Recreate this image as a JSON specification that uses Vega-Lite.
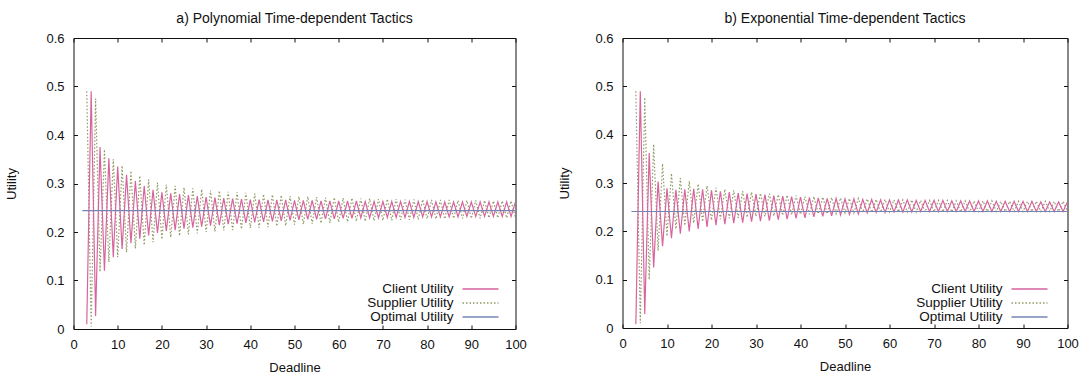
{
  "$schema": "https://vega.github.io/schema/vega-lite/v6.json",
  "autosize": {"type": "pad"},
  "padding": {"left": 4.5, "top": 11, "right": 0, "bottom": 0},
  "background": "white",
  "bounds": "flush",
  "spacing": 107,
  "config": {
    "font": "Liberation Sans",
    "view": {"stroke": "#111", "strokeWidth": 1},
    "axis": {
      "grid": false, "domain": false, "tickColor": "#111", "tickSize": -4, "tickWidth": 1,
      "labelFont": "Liberation Sans", "labelFontSize": 13, "labelColor": "#111", "labelFlush": false,
      "titleFont": "Liberation Sans", "titleFontSize": 13, "titleFontWeight": "normal", "titleColor": "#111"
    },
    "title": {"font": "Liberation Sans", "fontSize": 14, "fontWeight": "normal", "color": "#111", "offset": 6, "anchor": "middle"},
    "legend": {
      "orient": "none", "legendX": 400, "legendY": 244, "title": null,
      "symbolType": "M-3,0H3", "symbolSize": 144, "symbolStrokeWidth": 1.3,
      "labelAlign": "right", "labelOffset": -34, "labelFont": "Liberation Sans", "labelFontSize": 13.5,
      "labelColor": "#111", "rowPadding": 0
    }
  },
  "datasets": {
    "utility": [
      {"tactic": "poly", "deadline": 2, "optimal": 0.244},
      {"tactic": "poly", "deadline": 3, "client": 0.010, "supplier": 0.490, "optimal": 0.244},
      {"tactic": "poly", "deadline": 4, "client": 0.490, "supplier": 0.005, "optimal": 0.244},
      {"tactic": "poly", "deadline": 5, "client": 0.027, "supplier": 0.475, "optimal": 0.244},
      {"tactic": "poly", "deadline": 6, "client": 0.375, "supplier": 0.118, "optimal": 0.244},
      {"tactic": "poly", "deadline": 7, "client": 0.120, "supplier": 0.370, "optimal": 0.244},
      {"tactic": "poly", "deadline": 8, "client": 0.352, "supplier": 0.138, "optimal": 0.244},
      {"tactic": "poly", "deadline": 9, "client": 0.148, "supplier": 0.350, "optimal": 0.244},
      {"tactic": "poly", "deadline": 10, "client": 0.335, "supplier": 0.148, "optimal": 0.244},
      {"tactic": "poly", "deadline": 11, "client": 0.165, "supplier": 0.337, "optimal": 0.244},
      {"tactic": "poly", "deadline": 12, "client": 0.318, "supplier": 0.158, "optimal": 0.244},
      {"tactic": "poly", "deadline": 13, "client": 0.177, "supplier": 0.326, "optimal": 0.244},
      {"tactic": "poly", "deadline": 14, "client": 0.305, "supplier": 0.166, "optimal": 0.244},
      {"tactic": "poly", "deadline": 15, "client": 0.186, "supplier": 0.316, "optimal": 0.244},
      {"tactic": "poly", "deadline": 16, "client": 0.295, "supplier": 0.173, "optimal": 0.244},
      {"tactic": "poly", "deadline": 17, "client": 0.193, "supplier": 0.308, "optimal": 0.244},
      {"tactic": "poly", "deadline": 18, "client": 0.287, "supplier": 0.179, "optimal": 0.244},
      {"tactic": "poly", "deadline": 19, "client": 0.198, "supplier": 0.302, "optimal": 0.244},
      {"tactic": "poly", "deadline": 20, "client": 0.282, "supplier": 0.185, "optimal": 0.244},
      {"tactic": "poly", "deadline": 21, "client": 0.202, "supplier": 0.298, "optimal": 0.244},
      {"tactic": "poly", "deadline": 22, "client": 0.280, "supplier": 0.189, "optimal": 0.244},
      {"tactic": "poly", "deadline": 23, "client": 0.204, "supplier": 0.295, "optimal": 0.244},
      {"tactic": "poly", "deadline": 24, "client": 0.278, "supplier": 0.192, "optimal": 0.244},
      {"tactic": "poly", "deadline": 25, "client": 0.207, "supplier": 0.292, "optimal": 0.244},
      {"tactic": "poly", "deadline": 26, "client": 0.276, "supplier": 0.195, "optimal": 0.244},
      {"tactic": "poly", "deadline": 27, "client": 0.209, "supplier": 0.290, "optimal": 0.244},
      {"tactic": "poly", "deadline": 28, "client": 0.274, "supplier": 0.197, "optimal": 0.244},
      {"tactic": "poly", "deadline": 29, "client": 0.211, "supplier": 0.288, "optimal": 0.244},
      {"tactic": "poly", "deadline": 30, "client": 0.272, "supplier": 0.200, "optimal": 0.244},
      {"tactic": "poly", "deadline": 31, "client": 0.213, "supplier": 0.286, "optimal": 0.244},
      {"tactic": "poly", "deadline": 32, "client": 0.271, "supplier": 0.201, "optimal": 0.244},
      {"tactic": "poly", "deadline": 33, "client": 0.214, "supplier": 0.285, "optimal": 0.244},
      {"tactic": "poly", "deadline": 34, "client": 0.270, "supplier": 0.203, "optimal": 0.244},
      {"tactic": "poly", "deadline": 35, "client": 0.216, "supplier": 0.283, "optimal": 0.244},
      {"tactic": "poly", "deadline": 36, "client": 0.269, "supplier": 0.204, "optimal": 0.244},
      {"tactic": "poly", "deadline": 37, "client": 0.217, "supplier": 0.282, "optimal": 0.244},
      {"tactic": "poly", "deadline": 38, "client": 0.268, "supplier": 0.206, "optimal": 0.244},
      {"tactic": "poly", "deadline": 39, "client": 0.219, "supplier": 0.281, "optimal": 0.244},
      {"tactic": "poly", "deadline": 40, "client": 0.267, "supplier": 0.208, "optimal": 0.244},
      {"tactic": "poly", "deadline": 41, "client": 0.220, "supplier": 0.279, "optimal": 0.244},
      {"tactic": "poly", "deadline": 42, "client": 0.267, "supplier": 0.209, "optimal": 0.244},
      {"tactic": "poly", "deadline": 43, "client": 0.221, "supplier": 0.278, "optimal": 0.244},
      {"tactic": "poly", "deadline": 44, "client": 0.266, "supplier": 0.210, "optimal": 0.244},
      {"tactic": "poly", "deadline": 45, "client": 0.222, "supplier": 0.277, "optimal": 0.244},
      {"tactic": "poly", "deadline": 46, "client": 0.266, "supplier": 0.212, "optimal": 0.244},
      {"tactic": "poly", "deadline": 47, "client": 0.223, "supplier": 0.276, "optimal": 0.244},
      {"tactic": "poly", "deadline": 48, "client": 0.266, "supplier": 0.213, "optimal": 0.244},
      {"tactic": "poly", "deadline": 49, "client": 0.224, "supplier": 0.274, "optimal": 0.244},
      {"tactic": "poly", "deadline": 50, "client": 0.265, "supplier": 0.215, "optimal": 0.244},
      {"tactic": "poly", "deadline": 51, "client": 0.225, "supplier": 0.273, "optimal": 0.244},
      {"tactic": "poly", "deadline": 52, "client": 0.265, "supplier": 0.216, "optimal": 0.244},
      {"tactic": "poly", "deadline": 53, "client": 0.226, "supplier": 0.273, "optimal": 0.244},
      {"tactic": "poly", "deadline": 54, "client": 0.265, "supplier": 0.217, "optimal": 0.244},
      {"tactic": "poly", "deadline": 55, "client": 0.226, "supplier": 0.272, "optimal": 0.244},
      {"tactic": "poly", "deadline": 56, "client": 0.264, "supplier": 0.218, "optimal": 0.244},
      {"tactic": "poly", "deadline": 57, "client": 0.227, "supplier": 0.271, "optimal": 0.244},
      {"tactic": "poly", "deadline": 58, "client": 0.264, "supplier": 0.219, "optimal": 0.244},
      {"tactic": "poly", "deadline": 59, "client": 0.227, "supplier": 0.271, "optimal": 0.244},
      {"tactic": "poly", "deadline": 60, "client": 0.264, "supplier": 0.220, "optimal": 0.244},
      {"tactic": "poly", "deadline": 61, "client": 0.228, "supplier": 0.270, "optimal": 0.244},
      {"tactic": "poly", "deadline": 62, "client": 0.264, "supplier": 0.221, "optimal": 0.244},
      {"tactic": "poly", "deadline": 63, "client": 0.228, "supplier": 0.270, "optimal": 0.244},
      {"tactic": "poly", "deadline": 64, "client": 0.264, "supplier": 0.222, "optimal": 0.244},
      {"tactic": "poly", "deadline": 65, "client": 0.229, "supplier": 0.269, "optimal": 0.244},
      {"tactic": "poly", "deadline": 66, "client": 0.263, "supplier": 0.222, "optimal": 0.244},
      {"tactic": "poly", "deadline": 67, "client": 0.229, "supplier": 0.269, "optimal": 0.244},
      {"tactic": "poly", "deadline": 68, "client": 0.263, "supplier": 0.223, "optimal": 0.244},
      {"tactic": "poly", "deadline": 69, "client": 0.229, "supplier": 0.268, "optimal": 0.244},
      {"tactic": "poly", "deadline": 70, "client": 0.263, "supplier": 0.224, "optimal": 0.244},
      {"tactic": "poly", "deadline": 71, "client": 0.230, "supplier": 0.268, "optimal": 0.244},
      {"tactic": "poly", "deadline": 72, "client": 0.263, "supplier": 0.224, "optimal": 0.244},
      {"tactic": "poly", "deadline": 73, "client": 0.230, "supplier": 0.268, "optimal": 0.244},
      {"tactic": "poly", "deadline": 74, "client": 0.263, "supplier": 0.225, "optimal": 0.244},
      {"tactic": "poly", "deadline": 75, "client": 0.230, "supplier": 0.267, "optimal": 0.244},
      {"tactic": "poly", "deadline": 76, "client": 0.263, "supplier": 0.225, "optimal": 0.244},
      {"tactic": "poly", "deadline": 77, "client": 0.230, "supplier": 0.267, "optimal": 0.244},
      {"tactic": "poly", "deadline": 78, "client": 0.263, "supplier": 0.226, "optimal": 0.244},
      {"tactic": "poly", "deadline": 79, "client": 0.231, "supplier": 0.267, "optimal": 0.244},
      {"tactic": "poly", "deadline": 80, "client": 0.263, "supplier": 0.227, "optimal": 0.244},
      {"tactic": "poly", "deadline": 81, "client": 0.231, "supplier": 0.266, "optimal": 0.244},
      {"tactic": "poly", "deadline": 82, "client": 0.262, "supplier": 0.227, "optimal": 0.244},
      {"tactic": "poly", "deadline": 83, "client": 0.231, "supplier": 0.266, "optimal": 0.244},
      {"tactic": "poly", "deadline": 84, "client": 0.262, "supplier": 0.227, "optimal": 0.244},
      {"tactic": "poly", "deadline": 85, "client": 0.231, "supplier": 0.266, "optimal": 0.244},
      {"tactic": "poly", "deadline": 86, "client": 0.262, "supplier": 0.228, "optimal": 0.244},
      {"tactic": "poly", "deadline": 87, "client": 0.231, "supplier": 0.265, "optimal": 0.244},
      {"tactic": "poly", "deadline": 88, "client": 0.262, "supplier": 0.228, "optimal": 0.244},
      {"tactic": "poly", "deadline": 89, "client": 0.232, "supplier": 0.265, "optimal": 0.244},
      {"tactic": "poly", "deadline": 90, "client": 0.262, "supplier": 0.228, "optimal": 0.244},
      {"tactic": "poly", "deadline": 91, "client": 0.232, "supplier": 0.265, "optimal": 0.244},
      {"tactic": "poly", "deadline": 92, "client": 0.262, "supplier": 0.228, "optimal": 0.244},
      {"tactic": "poly", "deadline": 93, "client": 0.232, "supplier": 0.265, "optimal": 0.244},
      {"tactic": "poly", "deadline": 94, "client": 0.262, "supplier": 0.229, "optimal": 0.244},
      {"tactic": "poly", "deadline": 95, "client": 0.232, "supplier": 0.264, "optimal": 0.244},
      {"tactic": "poly", "deadline": 96, "client": 0.262, "supplier": 0.229, "optimal": 0.244},
      {"tactic": "poly", "deadline": 97, "client": 0.232, "supplier": 0.264, "optimal": 0.244},
      {"tactic": "poly", "deadline": 98, "client": 0.262, "supplier": 0.229, "optimal": 0.244},
      {"tactic": "poly", "deadline": 99, "client": 0.232, "supplier": 0.264, "optimal": 0.244},
      {"tactic": "poly", "deadline": 100, "client": 0.262, "supplier": 0.229, "optimal": 0.244},
      {"tactic": "exp", "deadline": 2, "optimal": 0.241},
      {"tactic": "exp", "deadline": 3, "client": 0.008, "supplier": 0.490, "optimal": 0.241},
      {"tactic": "exp", "deadline": 4, "client": 0.490, "supplier": 0.010, "optimal": 0.241},
      {"tactic": "exp", "deadline": 5, "client": 0.029, "supplier": 0.477, "optimal": 0.241},
      {"tactic": "exp", "deadline": 6, "client": 0.362, "supplier": 0.100, "optimal": 0.241},
      {"tactic": "exp", "deadline": 7, "client": 0.125, "supplier": 0.380, "optimal": 0.241},
      {"tactic": "exp", "deadline": 8, "client": 0.303, "supplier": 0.160, "optimal": 0.241},
      {"tactic": "exp", "deadline": 9, "client": 0.169, "supplier": 0.340, "optimal": 0.241},
      {"tactic": "exp", "deadline": 10, "client": 0.289, "supplier": 0.190, "optimal": 0.241},
      {"tactic": "exp", "deadline": 11, "client": 0.186, "supplier": 0.320, "optimal": 0.241},
      {"tactic": "exp", "deadline": 12, "client": 0.286, "supplier": 0.205, "optimal": 0.241},
      {"tactic": "exp", "deadline": 13, "client": 0.195, "supplier": 0.310, "optimal": 0.241},
      {"tactic": "exp", "deadline": 14, "client": 0.287, "supplier": 0.212, "optimal": 0.241},
      {"tactic": "exp", "deadline": 15, "client": 0.200, "supplier": 0.304, "optimal": 0.241},
      {"tactic": "exp", "deadline": 16, "client": 0.288, "supplier": 0.217, "optimal": 0.241},
      {"tactic": "exp", "deadline": 17, "client": 0.205, "supplier": 0.298, "optimal": 0.241},
      {"tactic": "exp", "deadline": 18, "client": 0.287, "supplier": 0.220, "optimal": 0.241},
      {"tactic": "exp", "deadline": 19, "client": 0.209, "supplier": 0.294, "optimal": 0.241},
      {"tactic": "exp", "deadline": 20, "client": 0.285, "supplier": 0.223, "optimal": 0.241},
      {"tactic": "exp", "deadline": 21, "client": 0.213, "supplier": 0.290, "optimal": 0.241},
      {"tactic": "exp", "deadline": 22, "client": 0.283, "supplier": 0.225, "optimal": 0.241},
      {"tactic": "exp", "deadline": 23, "client": 0.215, "supplier": 0.287, "optimal": 0.241},
      {"tactic": "exp", "deadline": 24, "client": 0.281, "supplier": 0.227, "optimal": 0.241},
      {"tactic": "exp", "deadline": 25, "client": 0.217, "supplier": 0.285, "optimal": 0.241},
      {"tactic": "exp", "deadline": 26, "client": 0.279, "supplier": 0.228, "optimal": 0.241},
      {"tactic": "exp", "deadline": 27, "client": 0.218, "supplier": 0.283, "optimal": 0.241},
      {"tactic": "exp", "deadline": 28, "client": 0.278, "supplier": 0.229, "optimal": 0.241},
      {"tactic": "exp", "deadline": 29, "client": 0.220, "supplier": 0.281, "optimal": 0.241},
      {"tactic": "exp", "deadline": 30, "client": 0.277, "supplier": 0.231, "optimal": 0.241},
      {"tactic": "exp", "deadline": 31, "client": 0.221, "supplier": 0.279, "optimal": 0.241},
      {"tactic": "exp", "deadline": 32, "client": 0.276, "supplier": 0.231, "optimal": 0.241},
      {"tactic": "exp", "deadline": 33, "client": 0.222, "supplier": 0.278, "optimal": 0.241},
      {"tactic": "exp", "deadline": 34, "client": 0.274, "supplier": 0.232, "optimal": 0.241},
      {"tactic": "exp", "deadline": 35, "client": 0.224, "supplier": 0.276, "optimal": 0.241},
      {"tactic": "exp", "deadline": 36, "client": 0.273, "supplier": 0.233, "optimal": 0.241},
      {"tactic": "exp", "deadline": 37, "client": 0.225, "supplier": 0.275, "optimal": 0.241},
      {"tactic": "exp", "deadline": 38, "client": 0.272, "supplier": 0.234, "optimal": 0.241},
      {"tactic": "exp", "deadline": 39, "client": 0.227, "supplier": 0.274, "optimal": 0.241},
      {"tactic": "exp", "deadline": 40, "client": 0.271, "supplier": 0.235, "optimal": 0.241},
      {"tactic": "exp", "deadline": 41, "client": 0.228, "supplier": 0.272, "optimal": 0.241},
      {"tactic": "exp", "deadline": 42, "client": 0.270, "supplier": 0.235, "optimal": 0.241},
      {"tactic": "exp", "deadline": 43, "client": 0.230, "supplier": 0.272, "optimal": 0.241},
      {"tactic": "exp", "deadline": 44, "client": 0.269, "supplier": 0.236, "optimal": 0.241},
      {"tactic": "exp", "deadline": 45, "client": 0.231, "supplier": 0.271, "optimal": 0.241},
      {"tactic": "exp", "deadline": 46, "client": 0.268, "supplier": 0.236, "optimal": 0.241},
      {"tactic": "exp", "deadline": 47, "client": 0.232, "supplier": 0.270, "optimal": 0.241},
      {"tactic": "exp", "deadline": 48, "client": 0.268, "supplier": 0.237, "optimal": 0.241},
      {"tactic": "exp", "deadline": 49, "client": 0.234, "supplier": 0.269, "optimal": 0.241},
      {"tactic": "exp", "deadline": 50, "client": 0.267, "supplier": 0.238, "optimal": 0.241},
      {"tactic": "exp", "deadline": 51, "client": 0.235, "supplier": 0.268, "optimal": 0.241},
      {"tactic": "exp", "deadline": 52, "client": 0.267, "supplier": 0.238, "optimal": 0.241},
      {"tactic": "exp", "deadline": 53, "client": 0.236, "supplier": 0.268, "optimal": 0.241},
      {"tactic": "exp", "deadline": 54, "client": 0.266, "supplier": 0.239, "optimal": 0.241},
      {"tactic": "exp", "deadline": 55, "client": 0.238, "supplier": 0.267, "optimal": 0.241},
      {"tactic": "exp", "deadline": 56, "client": 0.266, "supplier": 0.239, "optimal": 0.241},
      {"tactic": "exp", "deadline": 57, "client": 0.239, "supplier": 0.266, "optimal": 0.241},
      {"tactic": "exp", "deadline": 58, "client": 0.265, "supplier": 0.239, "optimal": 0.241},
      {"tactic": "exp", "deadline": 59, "client": 0.239, "supplier": 0.266, "optimal": 0.241},
      {"tactic": "exp", "deadline": 60, "client": 0.265, "supplier": 0.240, "optimal": 0.241},
      {"tactic": "exp", "deadline": 61, "client": 0.240, "supplier": 0.265, "optimal": 0.241},
      {"tactic": "exp", "deadline": 62, "client": 0.265, "supplier": 0.240, "optimal": 0.241},
      {"tactic": "exp", "deadline": 63, "client": 0.240, "supplier": 0.265, "optimal": 0.241},
      {"tactic": "exp", "deadline": 64, "client": 0.265, "supplier": 0.240, "optimal": 0.241},
      {"tactic": "exp", "deadline": 65, "client": 0.240, "supplier": 0.265, "optimal": 0.241},
      {"tactic": "exp", "deadline": 66, "client": 0.264, "supplier": 0.240, "optimal": 0.241},
      {"tactic": "exp", "deadline": 67, "client": 0.241, "supplier": 0.264, "optimal": 0.241},
      {"tactic": "exp", "deadline": 68, "client": 0.264, "supplier": 0.240, "optimal": 0.241},
      {"tactic": "exp", "deadline": 69, "client": 0.241, "supplier": 0.264, "optimal": 0.241},
      {"tactic": "exp", "deadline": 70, "client": 0.264, "supplier": 0.240, "optimal": 0.241},
      {"tactic": "exp", "deadline": 71, "client": 0.241, "supplier": 0.264, "optimal": 0.241},
      {"tactic": "exp", "deadline": 72, "client": 0.264, "supplier": 0.240, "optimal": 0.241},
      {"tactic": "exp", "deadline": 73, "client": 0.241, "supplier": 0.264, "optimal": 0.241},
      {"tactic": "exp", "deadline": 74, "client": 0.263, "supplier": 0.240, "optimal": 0.241},
      {"tactic": "exp", "deadline": 75, "client": 0.241, "supplier": 0.263, "optimal": 0.241},
      {"tactic": "exp", "deadline": 76, "client": 0.263, "supplier": 0.240, "optimal": 0.241},
      {"tactic": "exp", "deadline": 77, "client": 0.241, "supplier": 0.263, "optimal": 0.241},
      {"tactic": "exp", "deadline": 78, "client": 0.263, "supplier": 0.240, "optimal": 0.241},
      {"tactic": "exp", "deadline": 79, "client": 0.241, "supplier": 0.263, "optimal": 0.241},
      {"tactic": "exp", "deadline": 80, "client": 0.263, "supplier": 0.241, "optimal": 0.241},
      {"tactic": "exp", "deadline": 81, "client": 0.241, "supplier": 0.263, "optimal": 0.241},
      {"tactic": "exp", "deadline": 82, "client": 0.263, "supplier": 0.241, "optimal": 0.241},
      {"tactic": "exp", "deadline": 83, "client": 0.241, "supplier": 0.263, "optimal": 0.241},
      {"tactic": "exp", "deadline": 84, "client": 0.262, "supplier": 0.241, "optimal": 0.241},
      {"tactic": "exp", "deadline": 85, "client": 0.241, "supplier": 0.262, "optimal": 0.241},
      {"tactic": "exp", "deadline": 86, "client": 0.262, "supplier": 0.241, "optimal": 0.241},
      {"tactic": "exp", "deadline": 87, "client": 0.241, "supplier": 0.262, "optimal": 0.241},
      {"tactic": "exp", "deadline": 88, "client": 0.262, "supplier": 0.241, "optimal": 0.241},
      {"tactic": "exp", "deadline": 89, "client": 0.241, "supplier": 0.262, "optimal": 0.241},
      {"tactic": "exp", "deadline": 90, "client": 0.262, "supplier": 0.241, "optimal": 0.241},
      {"tactic": "exp", "deadline": 91, "client": 0.241, "supplier": 0.262, "optimal": 0.241},
      {"tactic": "exp", "deadline": 92, "client": 0.262, "supplier": 0.241, "optimal": 0.241},
      {"tactic": "exp", "deadline": 93, "client": 0.241, "supplier": 0.262, "optimal": 0.241},
      {"tactic": "exp", "deadline": 94, "client": 0.261, "supplier": 0.241, "optimal": 0.241},
      {"tactic": "exp", "deadline": 95, "client": 0.241, "supplier": 0.262, "optimal": 0.241},
      {"tactic": "exp", "deadline": 96, "client": 0.261, "supplier": 0.241, "optimal": 0.241},
      {"tactic": "exp", "deadline": 97, "client": 0.241, "supplier": 0.262, "optimal": 0.241},
      {"tactic": "exp", "deadline": 98, "client": 0.261, "supplier": 0.241, "optimal": 0.241},
      {"tactic": "exp", "deadline": 99, "client": 0.241, "supplier": 0.262, "optimal": 0.241},
      {"tactic": "exp", "deadline": 100, "client": 0.261, "supplier": 0.241, "optimal": 0.241}
    ]
  },
  "hconcat": [
    {
      "width": 442,
      "height": 291,
      "title": {"text": "a) Polynomial Time-dependent Tactics"},
      "data": {"name": "utility"},
      "transform": [
        {"filter": "datum.tactic == 'poly'"},
        {"fold": ["supplier", "client", "optimal"], "as": ["series", "utility"]}
      ],
      "layer": [
        {
          "transform": [{"filter": "datum.series != 'optimal'"}],
          "mark": {"type": "line", "strokeWidth": 1.2, "clip": true},
          "encoding": {
            "x": {"field": "deadline", "type": "quantitative", "scale": {"domain": [0, 100]},
                  "axis": {"orient": "bottom", "values": [0, 10, 20, 30, 40, 50, 60, 70, 80, 90, 100], "format": "d", "labelPadding": 13, "title": "Deadline", "titlePadding": 10}},
            "y": {"field": "utility", "type": "quantitative", "scale": {"domain": [0, 0.6]},
                  "axis": {"orient": "left", "values": [0, 0.1, 0.2, 0.3, 0.4, 0.5, 0.6], "format": "~g", "labelPadding": 13.5, "title": "Utility", "titlePadding": 27}},
            "color": {"field": "series", "type": "nominal",
                      "scale": {"domain": ["client", "supplier", "optimal"], "range": ["#d8639e", "#8e9a62", "#7586b2"]},
                      "legend": {"labelExpr": "datum.value == 'client' ? 'Client Utility' : datum.value == 'supplier' ? 'Supplier Utility' : 'Optimal Utility'"}},
            "strokeDash": {"field": "series", "type": "nominal",
                           "scale": {"domain": ["client", "supplier", "optimal"], "range": [[1, 0], [1.5, 2], [1, 0]]},
                           "legend": {"labelExpr": "datum.value == 'client' ? 'Client Utility' : datum.value == 'supplier' ? 'Supplier Utility' : 'Optimal Utility'"}}
          }
        },
        {
          "transform": [{"filter": "datum.series == 'optimal'"}],
          "mark": {"type": "line", "strokeWidth": 1.2, "clip": true},
          "encoding": {
            "x": {"field": "deadline", "type": "quantitative", "scale": {"domain": [0, 100]}, "axis": null},
            "y": {"field": "utility", "type": "quantitative", "scale": {"domain": [0, 0.6]}, "axis": null},
            "color": {"field": "series", "type": "nominal",
                      "scale": {"domain": ["client", "supplier", "optimal"], "range": ["#d8639e", "#8e9a62", "#7586b2"]},
                      "legend": {"labelExpr": "datum.value == 'client' ? 'Client Utility' : datum.value == 'supplier' ? 'Supplier Utility' : 'Optimal Utility'"}},
            "strokeDash": {"field": "series", "type": "nominal",
                           "scale": {"domain": ["client", "supplier", "optimal"], "range": [[1, 0], [1.5, 2], [1, 0]]},
                           "legend": {"labelExpr": "datum.value == 'client' ? 'Client Utility' : datum.value == 'supplier' ? 'Supplier Utility' : 'Optimal Utility'"}}
          }
        },
        {
          "mark": {"type": "point", "opacity": 0},
          "encoding": {
            "x": {"field": "deadline", "type": "quantitative", "scale": {"domain": [0, 100]},
                  "axis": {"orient": "top", "values": [0, 10, 20, 30, 40, 50, 60, 70, 80, 90, 100], "labels": false, "title": null}},
            "y": {"field": "utility", "type": "quantitative", "scale": {"domain": [0, 0.6]},
                  "axis": {"orient": "right", "values": [0, 0.1, 0.2, 0.3, 0.4, 0.5, 0.6], "labels": false, "title": null}}
          }
        }
      ],
      "resolve": {"axis": {"x": "independent", "y": "independent"}}
    },
    {
      "width": 445,
      "height": 290,
      "title": {"text": "b) Exponential Time-dependent Tactics"},
      "data": {"name": "utility"},
      "transform": [
        {"filter": "datum.tactic == 'exp'"},
        {"fold": ["supplier", "client", "optimal"], "as": ["series", "utility"]}
      ],
      "layer": [
        {
          "transform": [{"filter": "datum.series != 'optimal'"}],
          "mark": {"type": "line", "strokeWidth": 1.2, "clip": true},
          "encoding": {
            "x": {"field": "deadline", "type": "quantitative", "scale": {"domain": [0, 100]},
                  "axis": {"orient": "bottom", "values": [0, 10, 20, 30, 40, 50, 60, 70, 80, 90, 100], "format": "d", "labelPadding": 13, "title": "Deadline", "titlePadding": 10}},
            "y": {"field": "utility", "type": "quantitative", "scale": {"domain": [0, 0.6]},
                  "axis": {"orient": "left", "values": [0, 0.1, 0.2, 0.3, 0.4, 0.5, 0.6], "format": "~g", "labelPadding": 13.5, "title": "Utility", "titlePadding": 23}},
            "color": {"field": "series", "type": "nominal",
                      "scale": {"domain": ["client", "supplier", "optimal"], "range": ["#d8639e", "#8e9a62", "#7586b2"]},
                      "legend": {"labelExpr": "datum.value == 'client' ? 'Client Utility' : datum.value == 'supplier' ? 'Supplier Utility' : 'Optimal Utility'"}},
            "strokeDash": {"field": "series", "type": "nominal",
                           "scale": {"domain": ["client", "supplier", "optimal"], "range": [[1, 0], [1.5, 2], [1, 0]]},
                           "legend": {"labelExpr": "datum.value == 'client' ? 'Client Utility' : datum.value == 'supplier' ? 'Supplier Utility' : 'Optimal Utility'"}}
          }
        },
        {
          "transform": [{"filter": "datum.series == 'optimal'"}],
          "mark": {"type": "line", "strokeWidth": 1.2, "clip": true},
          "encoding": {
            "x": {"field": "deadline", "type": "quantitative", "scale": {"domain": [0, 100]}, "axis": null},
            "y": {"field": "utility", "type": "quantitative", "scale": {"domain": [0, 0.6]}, "axis": null},
            "color": {"field": "series", "type": "nominal",
                      "scale": {"domain": ["client", "supplier", "optimal"], "range": ["#d8639e", "#8e9a62", "#7586b2"]},
                      "legend": {"labelExpr": "datum.value == 'client' ? 'Client Utility' : datum.value == 'supplier' ? 'Supplier Utility' : 'Optimal Utility'"}},
            "strokeDash": {"field": "series", "type": "nominal",
                           "scale": {"domain": ["client", "supplier", "optimal"], "range": [[1, 0], [1.5, 2], [1, 0]]},
                           "legend": {"labelExpr": "datum.value == 'client' ? 'Client Utility' : datum.value == 'supplier' ? 'Supplier Utility' : 'Optimal Utility'"}}
          }
        },
        {
          "mark": {"type": "point", "opacity": 0},
          "encoding": {
            "x": {"field": "deadline", "type": "quantitative", "scale": {"domain": [0, 100]},
                  "axis": {"orient": "top", "values": [0, 10, 20, 30, 40, 50, 60, 70, 80, 90, 100], "labels": false, "title": null}},
            "y": {"field": "utility", "type": "quantitative", "scale": {"domain": [0, 0.6]},
                  "axis": {"orient": "right", "values": [0, 0.1, 0.2, 0.3, 0.4, 0.5, 0.6], "labels": false, "title": null}}
          }
        }
      ],
      "resolve": {"axis": {"x": "independent", "y": "independent"}}
    }
  ],
  "resolve": {
    "scale": {"color": "independent", "strokeDash": "independent"},
    "legend": {"color": "independent", "strokeDash": "independent"}
  }
}
